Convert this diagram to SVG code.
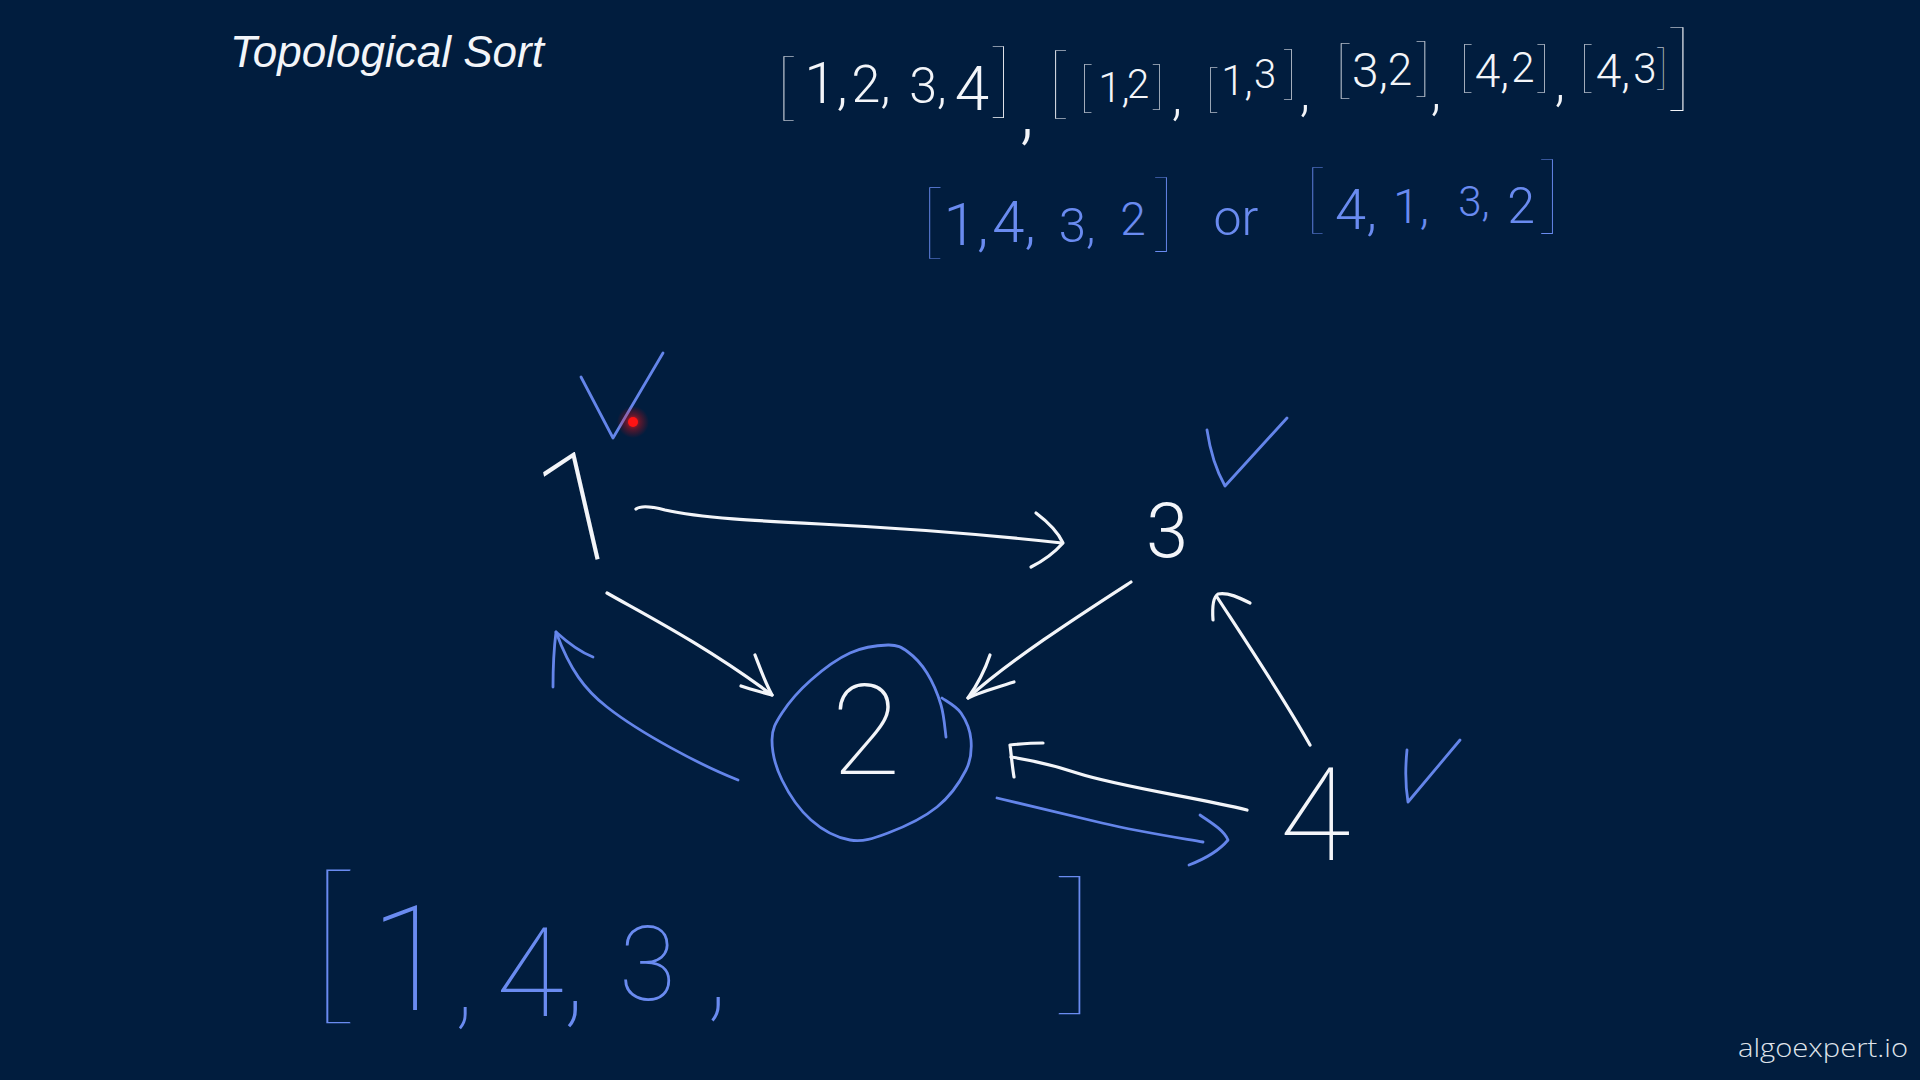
<svg xmlns="http://www.w3.org/2000/svg" width="1920" height="1080" viewBox="0 0 1920 1080">
<defs>
<style>
.hw{font-family:Roboto,Lato,"Liberation Sans",sans-serif;font-weight:300;text-anchor:middle}
.t{font-weight:100}
.br{font-family:Lato,Roboto,sans-serif;font-weight:200}
.bh{font-family:Lato,Roboto,sans-serif;font-weight:100}
.w{fill:#f3f5f9}
.b{fill:#6a8bf0}
.sw{fill:none;stroke:#f3f5f9;stroke-width:3.2;stroke-linecap:round;stroke-linejoin:round}
.sb{fill:none;stroke:#6485ea;stroke-width:2.8;stroke-linecap:round;stroke-linejoin:round}
</style>
<radialGradient id="glow" cx="0.5" cy="0.5" r="0.5">
<stop offset="0" stop-color="#ff2020" stop-opacity="0.9"/>
<stop offset="0.45" stop-color="#ff1010" stop-opacity="0.35"/>
<stop offset="1" stop-color="#ff0000" stop-opacity="0"/>
</radialGradient>
</defs>
<rect width="1920" height="1080" fill="#011d3e"/>

<text x="230" y="67" font-family="Liberation Sans, Arial, sans-serif" font-style="italic" font-size="44" fill="#f3f5f9">Topological Sort</text>

<g id="input-line">
<text class="hw w">
<tspan class="br" x="786" y="112" font-size="75">[</tspan><tspan x="826" y="103" font-size="58">1,</tspan><tspan x="871" y="102" font-size="52">2,</tspan><tspan x="928" y="103" font-size="50">3,</tspan><tspan x="972" y="110" font-size="62">4</tspan><tspan class="br" x="1001" y="108" font-size="82">]</tspan><tspan x="1027" y="136" font-size="72">,</tspan><tspan class="br" x="1058" y="109" font-size="79">[</tspan><tspan class="br" x="1086" y="106" font-size="55">[</tspan><tspan x="1114" y="102" font-size="42">1,</tspan><tspan x="1138" y="98" font-size="40">2</tspan><tspan class="br" x="1158" y="103" font-size="52">]</tspan><tspan x="1177" y="114" font-size="54">,</tspan><tspan class="br" x="1212" y="106" font-size="52">[</tspan><tspan x="1237" y="95" font-size="42">1,</tspan><tspan x="1265" y="88" font-size="40">3</tspan><tspan class="br" x="1290" y="93" font-size="58">]</tspan><tspan x="1305" y="110" font-size="54">,</tspan><tspan class="br" x="1343" y="91" font-size="64">[</tspan><tspan x="1370" y="87" font-size="48">3,</tspan><tspan x="1400" y="85" font-size="44">2</tspan><tspan class="br" x="1423" y="89" font-size="64">]</tspan><tspan x="1436" y="109" font-size="54">,</tspan><tspan class="br" x="1466" y="86" font-size="55">[</tspan><tspan x="1492" y="87" font-size="46">4,</tspan><tspan x="1523" y="82" font-size="42">2</tspan><tspan class="br" x="1543" y="86" font-size="55">]</tspan><tspan x="1560" y="100" font-size="54">,</tspan><tspan class="br" x="1586" y="86" font-size="55">[</tspan><tspan x="1613" y="87" font-size="46">4,</tspan><tspan x="1645" y="83" font-size="42">3</tspan><tspan class="br" x="1662" y="84" font-size="48">]</tspan><tspan class="br" x="1680" y="99" font-size="96">]</tspan>
</text>
</g>

<g id="answers">
<text class="hw b">
<tspan class="br" x="932" y="249" font-size="82">[</tspan><tspan x="966" y="245" font-size="60">1,</tspan><tspan x="1014" y="242" font-size="58">4,</tspan><tspan x="1077" y="242" font-size="49">3,</tspan><tspan x="1133" y="235" font-size="46">2</tspan><tspan class="br" x="1164" y="241" font-size="86">]</tspan><tspan x="1236" y="235" font-size="50">or</tspan><tspan class="br" x="1315" y="225" font-size="76">[</tspan><tspan x="1356" y="229" font-size="56">4,</tspan><tspan x="1411" y="223" font-size="48">1,</tspan><tspan x="1474" y="216" font-size="42">3,</tspan><tspan x="1521" y="223" font-size="50">2</tspan><tspan class="br" x="1550" y="223" font-size="86">]</tspan>
</text>
</g>

<g id="result">
<text class="hw b t" style="text-anchor:start">
<tspan class="bh" x="307" y="1002" font-size="176">[</tspan><tspan x="370" y="1010" font-size="146">1</tspan><tspan dx="4" dy="6" font-size="110">,</tspan><tspan x="496" y="1016" font-size="124">4</tspan><tspan dx="-2" dy="-5" font-size="130">,</tspan><tspan x="619" y="1000" font-size="104">3</tspan><tspan dx="30" dy="6" font-size="120">,</tspan><tspan class="bh" x="1052" y="995" font-size="158">]</tspan>
</text>
</g>

<g id="node-1">
<text class="hw w t" x="580" y="562" font-size="154" transform="rotate(-13 580 507)">1</text>
</g>
<g id="node-2">
<path class="sb" d="M946,737 C945.2,731.7 944.2,715.7 941,705 C937.8,694.3 932.5,681.8 927,673 C921.5,664.2 914.5,656.7 908,652 C901.5,647.3 897.7,644.8 888,645 C878.3,645.2 862.8,647.2 850,653 C837.2,658.8 822.3,670 811,680 C799.7,690 788.5,703 782,713 C775.5,723 772,728.8 772,740 C772,751.2 775.5,766.7 782,780 C788.5,793.3 799.7,810 811,820 C822.3,830 837.2,837.8 850,840 C862.8,842.2 873.5,838.5 888,833 C902.5,827.5 924,817.5 937,807 C950,796.5 960.3,781.2 966,770 C971.7,758.8 971.8,749.5 971,740 C970.2,730.5 965.8,720 961,713 C956.2,706 945.2,700.5 942,698"/>
<text class="hw w t" x="866" y="774" font-size="126">2</text>
</g>
<g id="node-3">
<text class="hw w" x="1167" y="557" font-size="76">3</text>
</g>
<g id="node-4">
<text class="hw w t" x="1315" y="860" font-size="130">4</text>
</g>

<g id="checks">
<path class="sb" d="M581,377 L613,438 L663,353"/>
<path class="sb" d="M1207,430 C1210,450 1216,470 1225,486 L1287,418"/>
<path class="sb" d="M1407,750 C1405,770 1406,790 1408,802 L1460,740"/>
</g>

<g id="connectors">
<path class="sw" d="M636,509 C640,506 650,506 665,510 C700,518 760,521 820,524 C900,528 980,534 1062,543"/>
<path class="sw" d="M1036,513 C1048,522 1058,532 1063,543 C1055,552 1045,560 1031,567"/>
<path class="sw" d="M607,593 C640,612 705,645 772,695"/>
<path class="sw" d="M755,655 C760,668 765,682 772,695 C762,692 752,690 741,686"/>
<path class="sw" d="M1131,582 C1080,615 1010,660 968,698"/>
<path class="sw" d="M990,655 C985,670 975,688 968,698 C980,692 998,687 1014,682"/>
<path class="sw" d="M1310,745 C1285,700 1245,640 1217,597"/>
<path class="sw" d="M1213,620 C1212,606 1213,597 1218,594 C1228,592 1240,598 1250,603"/>
<path class="sw" d="M1247,810 C1200,798 1120,787 1077,773 C1050,764 1030,760 1011,757"/>
<path class="sw" d="M1014,777 C1012,765 1011,752 1010,745 C1020,744 1032,743 1043,743"/>
<path class="sb" d="M738,780 C700,765 640,733 607,707 C585,690 570,670 556,632"/>
<path class="sb" d="M553,687 C553,668 554,648 556,632 C568,643 580,652 593,657"/>
<path class="sb" d="M997,798 C1040,808 1080,818 1102,823 C1140,832 1180,838 1203,842"/>
<path class="sb" d="M1200,815 C1210,822 1224,830 1228,840 C1218,852 1202,860 1189,865"/>
</g>

<g id="pointer">
<circle cx="633" cy="422" r="16" fill="url(#glow)"/>
<circle cx="633" cy="422" r="5" fill="#ff1414"/>
</g>

<text x="1908" y="1057" text-anchor="end" font-family="Open Sans, Liberation Sans, sans-serif" font-weight="300" font-size="26" fill="#dfe3ea" textLength="170" lengthAdjust="spacingAndGlyphs">algoexpert.io</text>
</svg>
